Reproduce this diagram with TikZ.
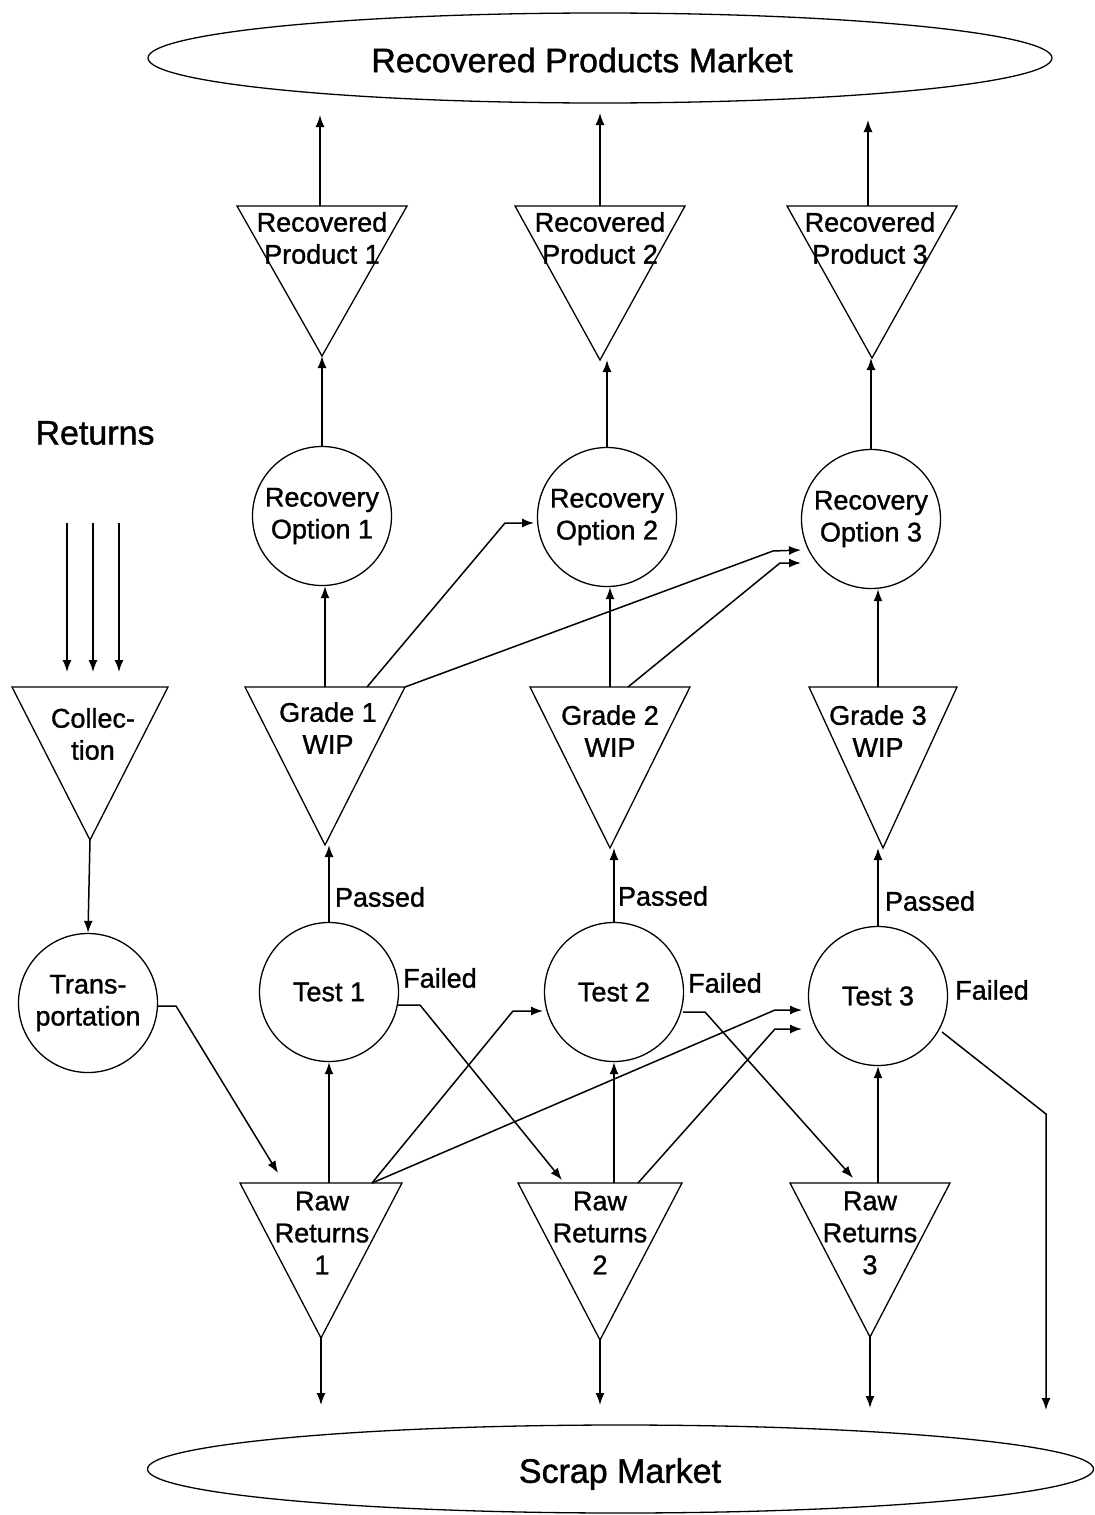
\documentclass[tikz,border=0pt]{standalone}
\usepackage{fontspec}
\setmainfont{Liberation Sans}[AutoFakeBold=1.2]
\usetikzlibrary{arrows.meta,calc,shapes.geometric}
\newcommand\nodefont{\fontsize{13.5}{16}\selectfont\bfseries}
\newcommand\bigfont{\fontsize{17}{20}\selectfont\bfseries}
\newcommand\invtri[5]{% name, cx, topy, halfw, apexy
  \coordinate (#1-tl) at ({#2-#4},#3);
  \coordinate (#1-tr) at ({#2+#4},#3);
  \coordinate (#1-top) at (#2,#3);
  \coordinate (#1-apex) at (#2,#5);
  \draw[shp] (#1-tl) -- (#1-tr) -- (#1-apex) -- cycle;
}
\begin{document}
\begin{tikzpicture}[x=0.5pt,y=-0.5pt,
  arr/.style={-{Latex[length=6pt,width=4.5pt]}, line width=0.75pt},
  shp/.style={draw, line width=0.65pt, line join=miter},
  circ/.style={shp, circle, minimum size=69.5pt, inner sep=0pt, align=center, font=\nodefont},
  lbl/.style={align=center, font=\nodefont, inner sep=0pt},
  big/.style={font=\bigfont, inner sep=0pt}]
\useasboundingbox (0,0) rectangle (1094,1515);
% markets
\node[shp, ellipse, minimum width=452pt, minimum height=45pt] (mkt) at (600,58) {};
\node[big] (mkt-t) at (582,60) {Recovered Products Market};
\node[shp, ellipse, minimum width=473pt, minimum height=44pt] (scrap) at (620.5,1469) {};
\node[big] (scrap-t) at (620,1474) {Scrap Market};
% triangles
\invtri{rp1}{322}{206}{85}{356}
\invtri{rp2}{600}{206}{85}{360}
\invtri{rp3}{872}{206}{85}{358}
\invtri{g1}{325}{687}{80}{845}
\invtri{g2}{610}{687}{80}{848}
\invtri{g3}{883}{687}{74}{848}
\invtri{coll}{90}{687}{78}{840}
\invtri{rr1}{321}{1183}{81}{1338}
\invtri{rr2}{600}{1183}{82}{1340}
\invtri{rr3}{870}{1183}{80}{1337}
\node[lbl] (rp1-t) at (322,238) {Recovered\\Product 1};
\node[lbl] (rp2-t) at (600,238) {Recovered\\Product 2};
\node[lbl] (rp3-t) at (870,238) {Recovered\\Product 3};
\node[lbl] (g1-t) at (328,728) {Grade 1\\WIP};
\node[lbl] (g2-t) at (610,731) {Grade 2\\WIP};
\node[lbl] (g3-t) at (878,731) {Grade 3\\WIP};
\node[lbl] (coll-t) at (93,734) {Collec-\\tion};
\node[lbl] (rr1-t) at (322,1233) {Raw\\Returns\\1};
\node[lbl] (rr2-t) at (600,1233) {Raw\\Returns\\2};
\node[lbl] (rr3-t) at (870,1233) {Raw\\Returns\\3};
% circles
\node[circ] (ro1) at (322,516) {Recovery\\Option 1};
\node[circ] (ro2) at (607,517) {Recovery\\Option 2};
\node[circ] (ro3) at (871,519) {Recovery\\Option 3};
\node[circ] (trans) at (88,1003) {Trans-\\portation};
\node[circ] (t1) at (329,992) {Test 1};
\node[circ] (t2) at (614,992) {Test 2};
\node[circ] (t3) at (878,996) {Test 3};
% labels
\node[big] (ret) at (95,433) {Returns};
\node[lbl] (p1) at (380,897) {Passed};
\node[lbl] (p2) at (663,896) {Passed};
\node[lbl] (p3) at (930,901) {Passed};
\node[lbl] (f1) at (440,978) {Failed};
\node[lbl] (f2) at (725,983) {Failed};
\node[lbl] (f3) at (992,990) {Failed};
% free ends
\coordinate (m1) at (320,115);
\coordinate (m2) at (600,113);
\coordinate (m3) at (868,120);
\coordinate (s1) at (321,1405);
\coordinate (s2) at (600,1405);
\coordinate (s3) at (870,1408);
\coordinate (s4) at (1046,1410);
\coordinate (b4) at (1046,1114);
\coordinate (g3-in) at (878,687);
\foreach \i/\x in {1/67,2/93,3/119}{
  \coordinate (ra\i) at (\x,523);
  \coordinate (rb\i) at (\x,672);
  \draw[arr] (ra\i) -- (rb\i);
}
% connectors up
\draw[arr] (m1 |- rp1-top) -- (m1);
\draw[arr] (m2 |- rp2-top) -- (m2);
\draw[arr] (m3 |- rp3-top) -- (m3);
\draw[arr] (ro1.north) -- (ro1.north |- rp1-apex);
\draw[arr] (ro2.north) -- (ro2.north |- rp2-apex);
\draw[arr] (ro3.north) -- (ro3.north |- rp3-apex);
\draw[arr] (g1-top) -- (g1-top |- ro1.south);
\draw[arr] (g2-top) -- (g2-top |- ro2.south);
\draw[arr] (g3-in) -- (g3-in |- ro3.south);
\draw[arr] ($(g1-top)+(42,0)$) -- ($(ro2)+(-102,6)$) -- ($(ro2)+(-73,6)$);
\draw[arr] (g1-tr) -- ($(ro3)+(-98,32)$) -- ($(ro3)+(-70,31)$);
\draw[arr] ($(g2-top)+(18,0)$) -- ($(ro3)+(-91,44)$) -- ($(ro3)+(-70,44)$);
\draw[arr] (t1.north) -- (t1.north |- g1-apex);
\draw[arr] (t2.north) -- (t2.north |- g2-apex);
\draw[arr] (t3.north) -- (t3.north |- g3-apex);
\draw[arr] (t1.south |- rr1-top) -- (t1.south);
\draw[arr] (t2.south |- rr2-top) -- (t2.south);
\draw[arr] (t3.south |- rr3-top) -- (t3.south);
\draw[arr] ($(rr1-top)+(51,0)$) -- ($(t2)+(-101,19)$) -- ($(t2)+(-71,19)$);
\draw[arr] ($(rr1-top)+(51,0)$) -- ($(t3)+(-103,14)$) -- ($(t3)+(-76,14)$);
\draw[arr] ($(rr2-top)+(38,0)$) -- ($(t3)+(-103,33)$) -- ($(t3)+(-76,33)$);
% failed
\draw[arr] ($(t1)+(69,13)$) -- ($(t1)+(91,13)$) -- ($(rr2-top)+(-38,-3)$);
\draw[arr] ($(t2)+(69,20)$) -- ($(t2)+(91,20)$) -- ($(rr3-top)+(-17,-5)$);
\draw[arr] ($(t3)+(64,36)$) -- (b4) -- (s4);
% left chain
\draw[arr] (coll-apex) -- (trans.north);
\draw[arr] ($(trans)+(69,3)$) -- ($(trans)+(88,3)$) -- ($(rr1-top)+(-43,-10)$);
% down
\draw[arr] (rr1-apex) -- (s1);
\draw[arr] (rr2-apex) -- (s2);
\draw[arr] (rr3-apex) -- (s3);
\end{tikzpicture}
\end{document}
